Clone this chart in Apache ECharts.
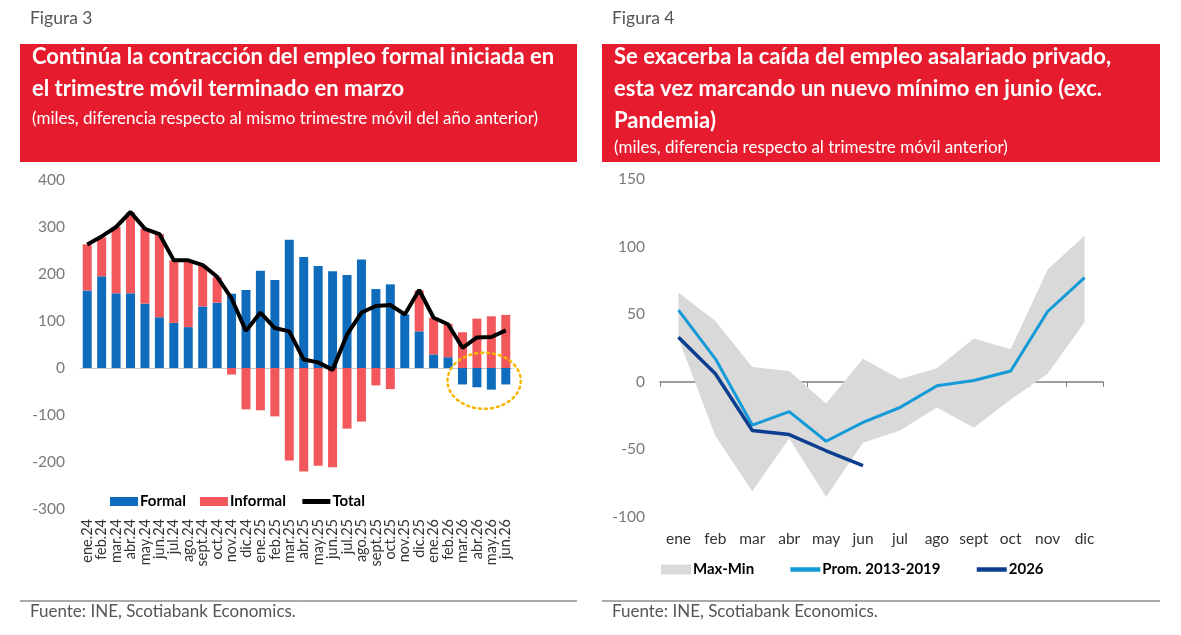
<!DOCTYPE html>
<html lang="es">

<head>
    <meta charset="UTF-8">
    <title>Empleo formal e informal</title>
    <script src="https://cdn.jsdelivr.net/npm/echarts@6/dist/echarts.min.js"></script>
    <style>
        body {
            margin: 0;
            background: #fff;
        }

        #root {
            width: 1181px;
            height: 635px;
        }
    </style>
</head>

<body>

    <div id="root"></div>
    <script>

        // Figura 3 - diferencia anual, miles
        var meses = ['ene.24', 'feb.24', 'mar.24', 'abr.24', 'may.24', 'jun.24', 'jul.24', 'ago.24', 'sept.24', 'oct.24', 'nov.24', 'dic.24',
            'ene.25', 'feb.25', 'mar.25', 'abr.25', 'may.25', 'jun.25', 'jul.25', 'ago.25', 'sept.25', 'oct.25', 'nov.25', 'dic.25',
            'ene.26', 'feb.26', 'mar.26', 'abr.26', 'may.26', 'jun.26'];
        var formal = [165, 195, 159, 159, 137, 108, 96, 87, 131, 139, 158, 166, 207, 187, 273, 236, 217, 206, 198, 231, 168, 178, 114, 78, 29, 23, -35, -41, -46, -35];
        var informal = [98, 83, 141, 172, 159, 177, 133, 142, 87, 54, -14, -88, -90, -103, -197, -220, -208, -211, -129, -114, -37, -45, 0, 87, 78, 71, 76, 105, 110, 113];
        var total = [263, 280, 300, 332, 296, 285, 229, 229, 219, 194, 148, 79, 118, 85, 78, 18, 12, -4, 71, 118, 132, 134, 114, 166, 107, 93, 43, 65, 66, 80];

        // Figura 4 - diferencia respecto al trimestre movil anterior, miles
        var mesesCortos = ['ene', 'feb', 'mar', 'abr', 'may', 'jun', 'jul', 'ago', 'sept', 'oct', 'nov', 'dic'];
        var maxVals = [66, 45, 11, 8, -16, 17, 2, 10, 32, 24, 83, 108];
        var minVals = [32, -40, -81, -42, -85, -45, -36, -19, -34, -13, 6, 44];
        var prom = [53, 17, -32, -22, -44, -30, -19, -3, 1, 8, 52, 77];
        var anio2026 = [33, 6, -36, -39, -51, -62];

        var rojo = '#e61c2e';
        var fuente = 'Lato, "Noto Sans", sans-serif';

        // banda max-min: base + diferencia apiladas
        var rango = maxVals.map(function (v, i) { return v - minVals[i]; });

        var mychart = echarts.init(document.getElementById('root'));

        function cabecera(x, w, figura, lineas, sub, subY) {
            var els = [
                { type: 'text', left: x + 10, top: 9, style: { text: figura, font: '17.5px ' + fuente, fill: '#555' } },
                { type: 'rect', shape: { x: x, y: 44, width: w, height: 118 }, style: { fill: rojo } }
            ];
            lineas.forEach(function (t, i) {
                els.push({ type: 'text', left: x + 12, top: 46 + i * 32, style: { text: t, font: 'bold 22px ' + fuente, fill: '#fff' } });
            });
            els.push({ type: 'text', left: x + 12, top: subY, style: { text: sub, font: '17px ' + fuente, fill: '#fff' } });
            els.push({ type: 'line', shape: { x1: x, y1: 601, x2: x + w, y2: 601 }, style: { stroke: '#555', lineWidth: 1 } });
            els.push({ type: 'text', left: x + 10, top: 603, style: { text: 'Fuente: INE, Scotiabank Economics.', font: '17px ' + fuente, fill: '#555' } });
            return els;
        }

        var graficos = [].concat(
            cabecera(20, 557, 'Figura 3', ['Continúa la contracción del empleo formal iniciada en', 'el trimestre móvil terminado en marzo'],
                '(miles, diferencia respecto al mismo trimestre móvil del año anterior)', 110),
            cabecera(602, 558, 'Figura 4', ['Se exacerba la caída del empleo asalariado privado,', 'esta vez marcando un nuevo mínimo en junio (exc.', 'Pandemia)'],
                '(miles, diferencia respecto al trimestre móvil anterior)', 139)
        );

        var sinPunto = { opacity: 0 };

        mychart.setOption({
            animation: false,
            textStyle: { fontFamily: fuente },
            graphic: graficos,
            grid: [
                { left: 80, top: 180, width: 433, height: 329 },
                { left: 660, top: 179, width: 443, height: 338 }
            ],
            legend: [{
                left: 105,
                top: 489,
                itemWidth: 28,
                itemHeight: 9,
                itemGap: 14,
                lineStyle: { width: 5 },
                textStyle: { fontSize: 15, fontWeight: 'bold', color: '#000', padding: [0, 0, 0, -3] },
                data: [{ name: 'Formal', icon: 'rect' }, { name: 'Informal', icon: 'rect' }, { name: 'Total', itemStyle: sinPunto }]
            }, {
                left: 656,
                top: 557,
                itemWidth: 30,
                itemHeight: 10,
                itemGap: 34,
                lineStyle: { width: 4.5 },
                textStyle: { fontSize: 15, fontWeight: 'bold', color: '#000', padding: [0, 0, 0, -3] },
                data: [{ name: 'Max-Min', icon: 'rect' }, { name: 'Prom. 2013-2019', itemStyle: sinPunto }, { name: '2026', itemStyle: sinPunto }]
            }],
            xAxis: [{
                // etiquetas abajo
                gridIndex: 0,
                type: 'category',
                data: meses,
                axisLine: { show: false, onZero: false },
                axisTick: { show: false },
                axisLabel: { rotate: 90, fontSize: 14.5, color: '#333', margin: 10, interval: 0 }
            }, {
                // linea en cero
                gridIndex: 0,
                type: 'category',
                data: meses,
                position: 'bottom',
                axisLine: { show: true, onZero: true, lineStyle: { color: '#c8c8c8', width: 1 } },
                axisTick: { show: false },
                axisLabel: { show: false }
            }, {
                gridIndex: 1,
                type: 'category',
                data: mesesCortos,
                axisLine: { show: false, onZero: false },
                axisTick: { show: false },
                axisLabel: { fontSize: 15.5, color: '#333', margin: 14, interval: 0 }
            }, {
                gridIndex: 1,
                type: 'category',
                data: mesesCortos,
                position: 'bottom',
                axisLine: { show: true, onZero: true, lineStyle: { color: '#7f7f7f', width: 1.5 } },
                axisTick: { show: true, length: 5, lineStyle: { color: '#7f7f7f' } },
                axisLabel: { show: false }
            }],
            yAxis: [{
                gridIndex: 0,
                type: 'value',
                min: -300,
                max: 400,
                interval: 100,
                splitLine: { show: false },
                axisLabel: { fontSize: 15.5, color: '#7a7a7a', margin: 15 }
            }, {
                gridIndex: 1,
                type: 'value',
                min: -100,
                max: 150,
                interval: 50,
                splitLine: { show: false },
                axisLabel: { fontSize: 15.5, color: '#7a7a7a', margin: 15 }
            }],
            series: [{
                name: 'Formal',
                type: 'bar',
                stack: 'empleo',
                xAxisIndex: 0,
                yAxisIndex: 0,
                barWidth: 9,
                itemStyle: { color: '#0f6cbd' },
                data: formal
            }, {
                name: 'Informal',
                type: 'bar',
                stack: 'empleo',
                xAxisIndex: 0,
                yAxisIndex: 0,
                barWidth: 9,
                itemStyle: { color: '#f2585b' },
                data: informal
            }, {
                name: 'Total',
                type: 'line',
                xAxisIndex: 0,
                yAxisIndex: 0,
                symbol: 'none',
                z: 5,
                itemStyle: { color: '#000' },
                lineStyle: { color: '#000', width: 4 },
                data: total
            }, {
                name: 'base',
                type: 'line',
                stack: 'banda',
                stackStrategy: 'all',
                xAxisIndex: 2,
                yAxisIndex: 1,
                symbol: 'none',
                lineStyle: { opacity: 0 },
                data: minVals
            }, {
                name: 'Max-Min',
                type: 'line',
                stack: 'banda',
                stackStrategy: 'all',
                xAxisIndex: 2,
                yAxisIndex: 1,
                symbol: 'none',
                itemStyle: { color: '#d9d9d9' },
                lineStyle: { opacity: 0 },
                areaStyle: { color: '#d9d9d9', opacity: 1 },
                data: rango
            }, {
                name: 'Prom. 2013-2019',
                type: 'line',
                xAxisIndex: 2,
                yAxisIndex: 1,
                symbol: 'none',
                z: 4,
                itemStyle: { color: '#159ad8' },
                lineStyle: { color: '#159ad8', width: 3 },
                data: prom
            }, {
                name: '2026',
                type: 'line',
                xAxisIndex: 2,
                yAxisIndex: 1,
                symbol: 'none',
                z: 5,
                itemStyle: { color: '#0b3e8f' },
                lineStyle: { color: '#0b3e8f', width: 3.5 },
                data: anio2026
            }]
        });

        // elipse punteada sobre las barras formales negativas (mar.26 - jun.26)
        var pA = mychart.convertToPixel({ xAxisIndex: 0, yAxisIndex: 0 }, ['mar.26', -25]);
        var pB = mychart.convertToPixel({ xAxisIndex: 0, yAxisIndex: 0 }, ['jun.26', -25]);
        graficos.push({
            type: 'ellipse',
            shape: { cx: (pA[0] + pB[0]) / 2, cy: pA[1] + 1, rx: (pB[0] - pA[0]) / 2 + 15, ry: 28 },
            style: { fill: 'none', stroke: '#f7b500', lineWidth: 2.5, lineDash: [2, 4], lineCap: 'round' },
            z: 10
        });
        mychart.setOption({ graphic: graficos });

    </script>

</body>

</html>
